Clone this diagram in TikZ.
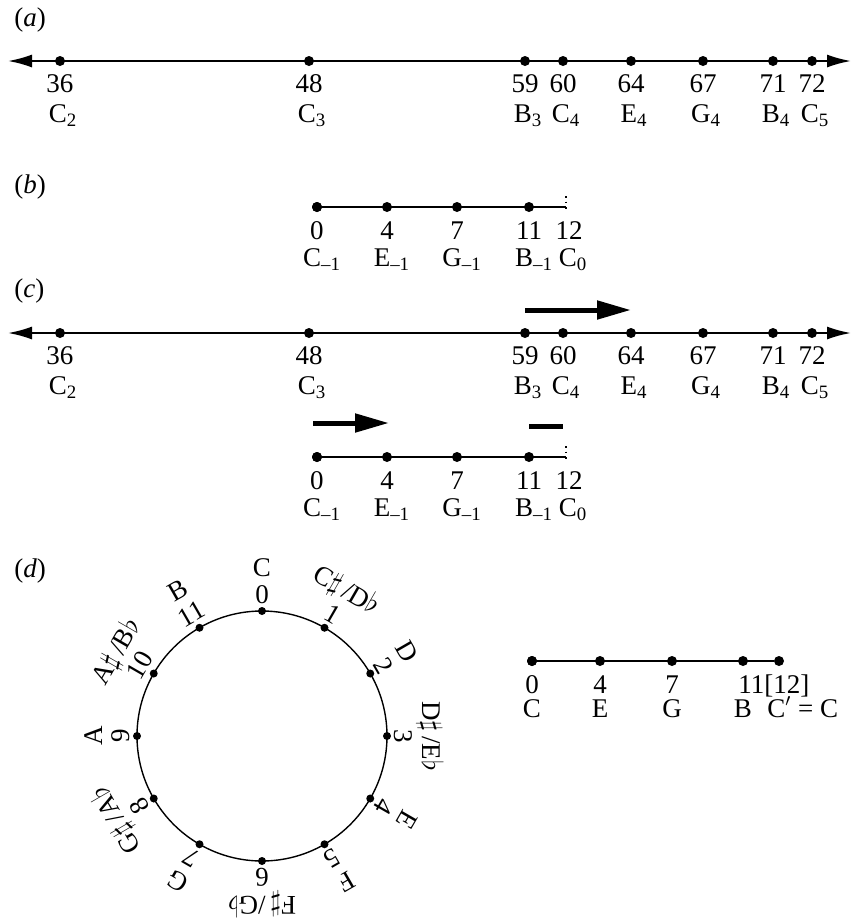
\documentclass[tikz,border=0pt]{standalone}
\usepackage{fontspec}
\setmainfont{Liberation Serif}
\usetikzlibrary{arrows.meta,positioning}

\begin{document}
\begin{tikzpicture}[x=0.5pt,y=-0.5pt,
  numline/.style={line width=1pt,{Latex[length=12pt,width=6.5pt]}-{Latex[length=12pt,width=6.5pt]}},
  segline/.style={line width=1pt},
  pt/.style={circle,fill,inner sep=0pt,minimum size=5pt},
  cpt/.style={circle,fill,inner sep=0pt,minimum size=4pt},
  lab/.style={anchor=base,inner sep=0pt,font=\fontsize{13.5}{16}\selectfont},
  part/.style={anchor=base west,inner sep=0pt,font=\fontsize{13.5}{16}\selectfont},
  rlab/.style={inner sep=0pt,font=\fontsize{13.5}{16}\selectfont},
  bigarrow/.style={line width=2.5pt,-{Triangle[length=17pt,width=9pt]}},
  bar/.style={line width=2.5pt}]
\useasboundingbox (0,0) rectangle (859,918);

% panel labels
\node[part] (pa) at (14,26) {(\textit{a})};
\node[part] (pb) at (14,193) {(\textit{b})};
\node[part] (pc) at (14,297) {(\textit{c})};
\node[part] (pd) at (14,577) {(\textit{d})};

% long number lines (a) and (c)
\foreach \row/\y in {a/61,c/333}{
  \coordinate (\row L) at (8,\y);
  \coordinate (\row R) at (851,\y);
  \draw[numline] (\row L) -- (\row R);
  \foreach \x/\n/\nt/\oc in {60/36/C/2,309/48/C/3,525/59/B/3,563/60/C/4,
                              631/64/E/4,703/67/G/4,773/71/B/4,812/72/C/5}{
    \node[pt] (\row\n) at (\x,\y) {};
    \node[lab] (\row\n num) at (\x,\y+31) {\n};
    \node[lab] (\row\n note) at (\x+3,\y+61) {\nt\textsubscript{\oc}};
  }
}

% short lines (b) and lower (c)
\foreach \row/\y in {b/207,e/457}{
  \node[pt] (\row0) at (317,\y) {};
  \coordinate (\row End) at (566,\y);
  \coordinate (\row Top) at (566,\y-11);
  \coordinate (\row Bot) at (566,\y+4);
  \draw[segline] (\row0) -- (\row End);
  \draw[line width=0.8pt,dotted] (\row Top) -- (\row Bot);
  \foreach \x/\n/\nt in {317/0/C,387/4/E,457/7/G,529/11/B}{
    \node[pt] (\row\n) at (\x,\y) {};
    \node[lab] (\row\n num) at (\x,\y+32) {\n};
    \node[lab] (\row\n note) at (\x+5,\y+59) {\nt\textsubscript{–1}};
  }
  \node[lab] (\row12num) at (569,\y+32) {12};
  \node[lab] (\row12note) at (573,\y+59) {C\textsubscript{0}};
}

% shifts in (c)
\coordinate (upA) at (525,310);
\coordinate (upB) at (631,310);
\draw[bigarrow] (upA) -- (upB);
\coordinate (loA) at (313,423);
\coordinate (loB) at (389,423);
\draw[bigarrow] (loA) -- (loB);
\coordinate (barA) at (529,426);
\coordinate (barB) at (563,426);
\draw[bar] (barA) -- (barB);

% pitch-class circle (d)
\coordinate (ctr) at (262,736);
\draw[line width=0.7pt] (ctr) circle[radius=62.5pt];
\foreach \k/\nm in {0/C,1/{C$\sharp$\,/D$\flat$},2/D,3/{D$\sharp$\,/E$\flat$},4/E,5/F,
                    6/{F$\sharp$\,/G$\flat$},7/G,8/{G$\sharp$\,/A$\flat$},9/A,
                    10/{A$\sharp$\,/B$\flat$},11/B}{
  \node[cpt] (pc\k) at ([shift={(ctr)}]30*\k-90:125) {};
  \node[rlab,rotate=-30*\k] (pc\k num) at ([shift={(ctr)}]30*\k-90:141) {\k};
  \node[rlab,rotate=-30*\k] (pc\k note) at ([shift={(ctr)}]30*\k-90:168) {\nm};
}

% octave-reduced line (d)
\node[pt] (d0) at (532,661) {};
\node[pt] (d12) at (779,661) {};
\draw[segline] (d0) -- (d12);
\foreach \x/\n/\nt in {532/0/C,600/4/E,672/7/G,743/11/B}{
  \node[pt] (d\n) at (\x,661) {};
  \node[lab] (d\n note) at (\x,717) {\nt};
}
\node[lab] (d0num) at (532,693) {0};
\node[lab] (d4num) at (600,693) {4};
\node[lab] (d7num) at (672,693) {7};
\node[part] (d11num) at (738,693) {11[12]};
\node[part] (d12note) at (767,717) {C$'$ = C};
\end{tikzpicture}
\end{document}
